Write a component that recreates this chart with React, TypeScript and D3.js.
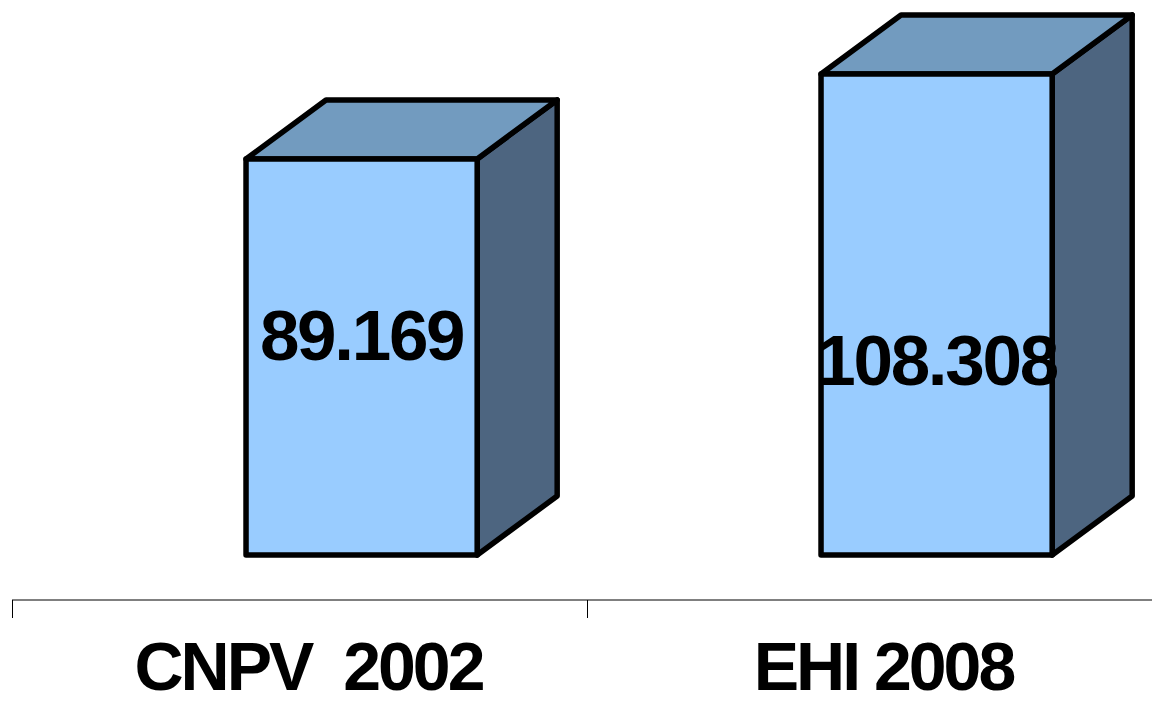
import React, { useEffect, useRef } from 'react'
import * as d3 from 'd3'

const categories = ['CNPV  2002', 'EHI 2008']
const values = [89.169, 108.308]
const valueLabels = ['89.169', '108.308']
// where each value label's baseline sits, in value units
const labelLevels = [43.8, 38.2]

const App: React.FC = () => {
  const svgRef = useRef<SVGSVGElement>(null)

  useEffect(() => {
    document.body.style.margin = '0'
    if (!svgRef.current) return
    const svg = d3.select(svgRef.current)
    svg.selectAll('*').remove()

    const width = 1152
    const axisY = 600
    const depthX = 80
    const depthY = -59

    const x = d3.scaleBand<string>()
      .domain(categories)
      .range([12, 1162])

    const y = d3.scaleLinear()
      .domain([0, 120])
      .range([555, 22])

    const bw = x.bandwidth()
    const frontOffset = bw * 0.407
    const frontWidth = bw * 0.402

    const bars = svg.append('g').selectAll('g.bar')
      .data(values.map((v, i) => ({ v, i, cat: categories[i] })))
      .join('g')
      .attr('class', 'bar')

    const stroke = (sel: d3.Selection<SVGPathElement, any, any, any>) =>
      sel.attr('stroke', '#000')
        .attr('stroke-width', 5.5)
        .attr('stroke-linejoin', 'round')

    // side face
    bars.append('path')
      .attr('d', d => {
        const x1 = x(d.cat)! + frontOffset + frontWidth
        const y0 = y(0)
        const yt = y(d.v)
        return `M${x1},${y0}L${x1},${yt}L${x1 + depthX},${yt + depthY}L${x1 + depthX},${y0 + depthY}Z`
      })
      .attr('fill', '#4d6580')
      .call(stroke)

    // top face
    bars.append('path')
      .attr('d', d => {
        const x0 = x(d.cat)! + frontOffset
        const x1 = x0 + frontWidth
        const yt = y(d.v)
        return `M${x0},${yt}L${x0 + depthX},${yt + depthY}L${x1 + depthX},${yt + depthY}L${x1},${yt}Z`
      })
      .attr('fill', '#729bbf')
      .call(stroke)

    // front face
    bars.append('path')
      .attr('d', d => {
        const x0 = x(d.cat)! + frontOffset
        const x1 = x0 + frontWidth
        return `M${x0},${y(0)}L${x0},${y(d.v)}L${x1},${y(d.v)}L${x1},${y(0)}Z`
      })
      .attr('fill', '#99ccff')
      .call(stroke)

    bars.append('text')
      .attr('x', d => x(d.cat)! + frontOffset + frontWidth / 2)
      .attr('y', d => y(labelLevels[d.i]))
      .attr('text-anchor', 'middle')
      .attr('font-family', '"Liberation Sans", Arial, sans-serif')
      .attr('font-weight', 'bold')
      .attr('font-size', 71)
      .attr('letter-spacing', -2.3)
      .attr('fill', '#000')
      .text(d => valueLabels[d.i])

    // category axis
    const axis = svg.append('g')
    axis.append('line')
      .attr('x1', 12).attr('x2', width)
      .attr('y1', axisY).attr('y2', axisY)
      .attr('stroke', '#000').attr('stroke-width', 1)
    axis.selectAll('line.tick')
      .data(categories)
      .join('line')
      .attr('class', 'tick')
      .attr('x1', d => x(d)! + 0.5).attr('x2', d => x(d)! + 0.5)
      .attr('y1', axisY).attr('y2', axisY + 18)
      .attr('stroke', '#000').attr('stroke-width', 1)
    axis.selectAll('text')
      .data(categories)
      .join('text')
      .attr('x', d => x(d)! + bw / 2 + 9)
      .attr('y', 690)
      .attr('text-anchor', 'middle')
      .attr('font-family', '"Liberation Sans", Arial, sans-serif')
      .attr('font-weight', 'bold')
      .attr('font-size', 68)
      .attr('letter-spacing', -3)
      .style('white-space', 'pre')
      .attr('fill', '#000')
      .text(d => d)
  }, [])

  return (
    <svg ref={svgRef} width={1152} height={705} style={{ display: 'block', background: '#fff' }} />
  )
}

export default App
